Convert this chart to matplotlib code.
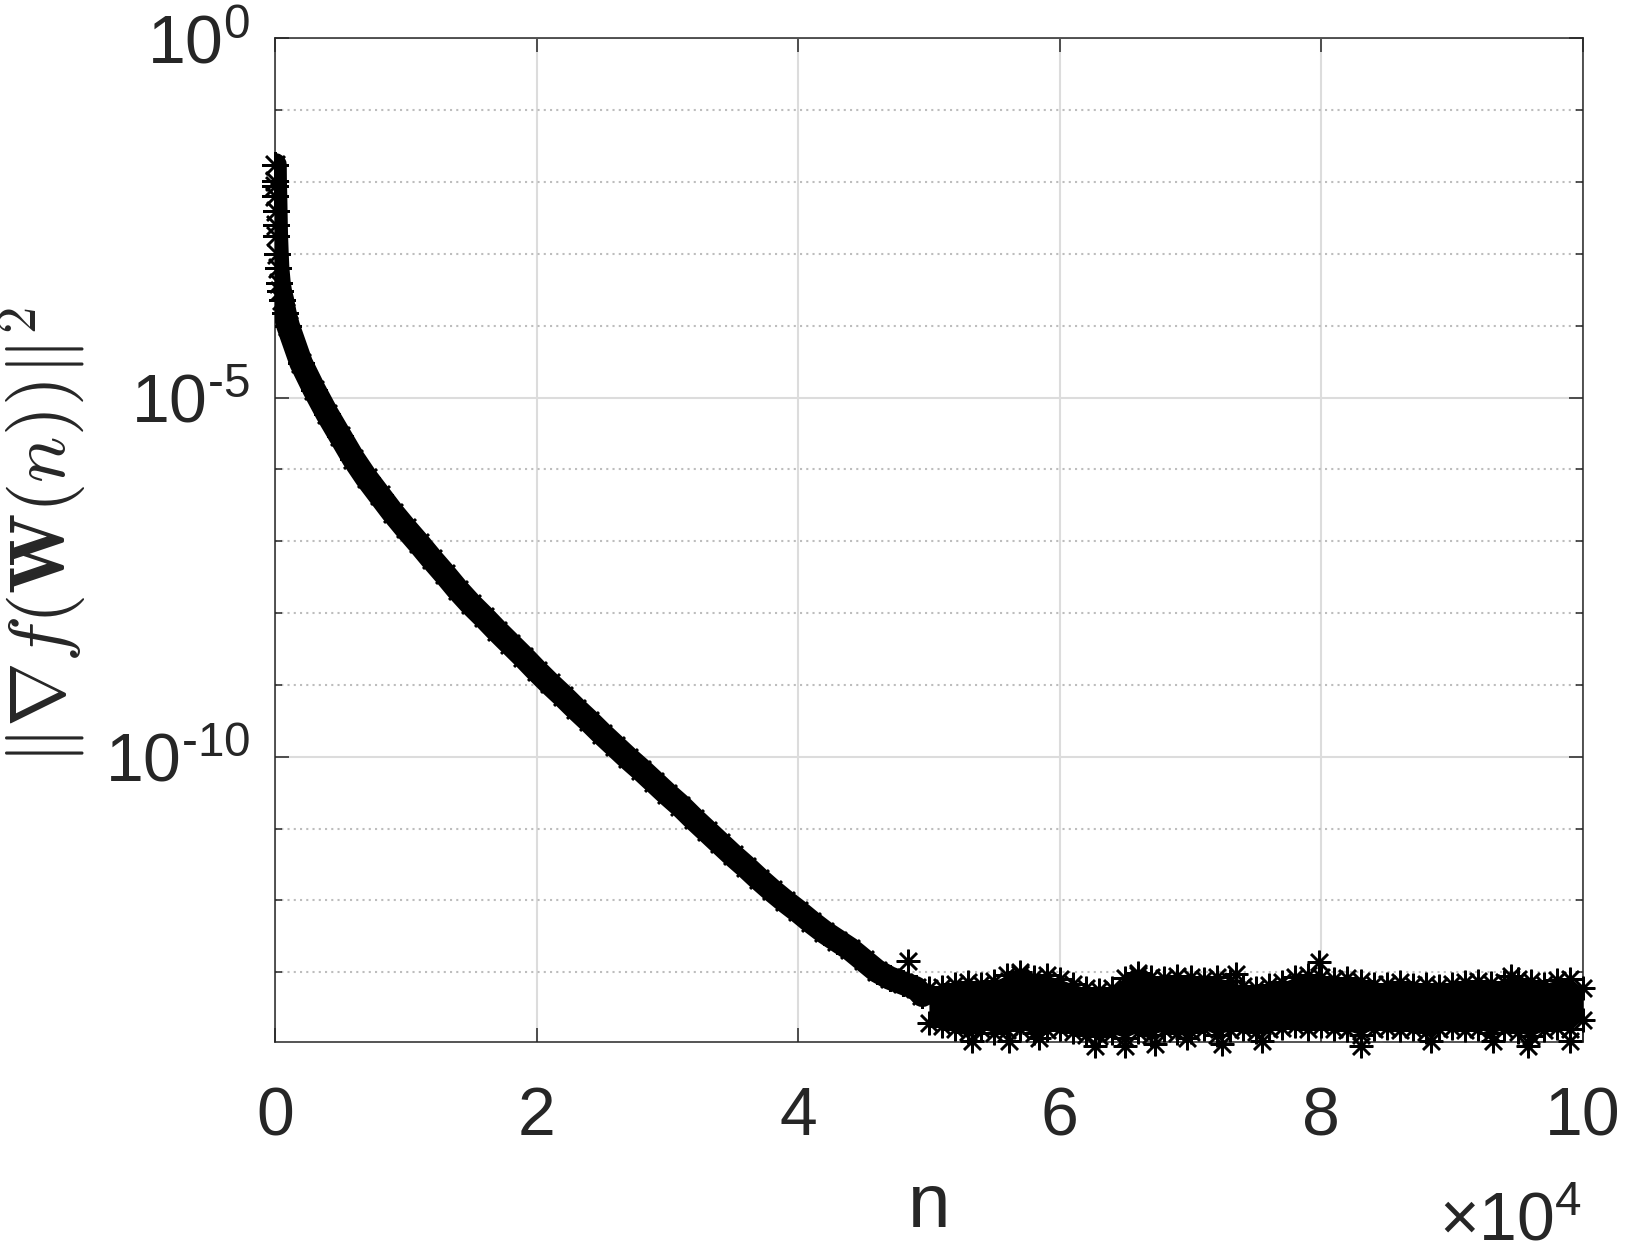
import numpy as np
import matplotlib
matplotlib.use('Agg')
import matplotlib.pyplot as plt
from matplotlib.ticker import FixedLocator, NullFormatter

plt.rcParams['font.family'] = ['Liberation Sans', 'DejaVu Sans']
plt.rcParams['mathtext.fontset'] = 'custom'
plt.rcParams['mathtext.rm'] = 'Liberation Sans'
plt.rcParams['mathtext.it'] = 'Liberation Sans:italic'
plt.rcParams['mathtext.bf'] = 'Liberation Sans:bold'

# descent part: iteration n and log10 of ||grad f(W(n))||^2
n_descent = [0, 10, 20, 40, 60, 80, 100, 150, 200, 300, 400, 560, 750,
             1000, 2000, 3000, 4000, 5000, 6000, 7000, 8000, 9000, 10000,
             11000, 12000, 13000, 14000, 15000, 16000, 17000, 18000, 19000, 20000,
             21000, 22000, 23000, 24000, 25000, 26000, 27000, 28000, 29000, 30000,
             31000, 32000, 33000, 34000, 35000, 36000, 37000, 38000, 39000, 40000,
             41000, 42000, 43000, 44000, 45000, 46000, 47000, 48000, 49000, 49500]
log_descent = [-1.76, -1.98, -2.05, -2.20, -2.40, -2.60, -2.75, -3.00, -3.20, -3.40, -3.52, -3.64, -3.82,
               -4.00, -4.52, -4.89, -5.23, -5.54, -5.85, -6.12, -6.36, -6.60, -6.82,
               -7.03, -7.25, -7.46, -7.68, -7.88, -8.06, -8.25, -8.43, -8.61, -8.80,
               -8.98, -9.15, -9.33, -9.50, -9.68, -9.85, -10.02, -10.18, -10.35, -10.52,
               -10.68, -10.86, -11.03, -11.20, -11.37, -11.53, -11.70, -11.86, -12.01, -12.15,
               -12.30, -12.44, -12.56, -12.68, -12.83, -12.98, -13.08, -13.15, -13.22, -13.32]

# noise floor: upper and lower edge of the scatter band (log10)
n_floor = [50000, 51000, 52000, 53000, 54000, 55000, 56000, 57000, 58000, 59000,
           60000, 61000, 62000, 63000, 64000, 65000, 66000, 67000, 68000, 69000,
           70000, 71000, 72000, 73000, 74000, 75000, 76000, 77000, 78000, 79000,
           80000, 81000, 82000, 83000, 84000, 85000, 86000, 87000, 88000, 89000,
           90000, 91000, 92000, 93000, 94000, 95000, 96000, 97000, 98000, 99000, 100000]
log_floor_hi = [-13.22, -13.20, -13.17, -13.14, -13.16, -13.12, -13.04, -13.02, -13.06, -13.04,
                -13.10, -13.16, -13.22, -13.24, -13.22, -13.08, -13.04, -13.06, -13.08, -13.05,
                -13.07, -13.10, -13.07, -13.12, -13.19, -13.22, -13.18, -13.14, -13.07, -13.04,
                -13.06, -13.10, -13.08, -13.12, -13.17, -13.16, -13.14, -13.18, -13.16, -13.19,
                -13.17, -13.14, -13.12, -13.15, -13.14, -13.10, -13.12, -13.16, -13.11, -13.09, -13.22]
log_floor_lo = [-13.70, -13.75, -13.79, -13.83, -13.79, -13.84, -13.81, -13.79, -13.85, -13.81,
                -13.79, -13.83, -13.87, -13.89, -13.85, -13.91, -13.83, -13.87, -13.81, -13.85,
                -13.83, -13.79, -13.87, -13.81, -13.79, -13.83, -13.79, -13.77, -13.75, -13.79,
                -13.75, -13.79, -13.81, -13.87, -13.79, -13.77, -13.81, -13.79, -13.83, -13.79,
                -13.77, -13.81, -13.79, -13.85, -13.79, -13.83, -13.89, -13.81, -13.77, -13.79, -13.66]

# isolated stray points
n_stray = [48400, 79850, 57000, 66000, 73500, 94500,
           53300, 56100, 58400, 62700, 65000, 67300, 69700, 72400, 75500, 83000, 88400, 93100, 95800, 99000]
log_stray = [-12.84, -12.86, -13.00, -13.01, -13.03, -13.05,
             -13.95, -13.95, -13.92, -14.02, -14.03, -14.00, -13.92, -14.00, -13.95, -14.02, -13.96, -13.96, -14.03, -13.95]

fig = plt.figure(figsize=(16.29, 12.54), dpi=100)
ax = fig.add_axes([0.1688, 0.1691, 0.8029, 0.8003])
ax.set_yscale('log')

star = (8, 2, 0)
ink = '#262626'

g_descent = 10 ** np.array(log_descent)
ax.plot(n_descent, g_descent, '-', color='k', lw=17, solid_joinstyle='round',
        solid_capstyle='round', zorder=3)
ax.plot(n_descent, g_descent, ls='none', marker=star, ms=19, mew=1.8, color='k',
        zorder=4, clip_on=False)

g_hi = 10 ** np.array(log_floor_hi)
g_lo = 10 ** np.array(log_floor_lo)
ax.fill_between(n_floor, g_lo, g_hi, color='k', lw=0, zorder=3)
for g in (g_hi, g_lo):
    ax.plot(n_floor, g, ls='none', marker=star, ms=17, mew=1.8, color='k',
            zorder=4, clip_on=False)
ax.plot(n_stray, 10 ** np.array(log_stray), ls='none', marker=star, ms=17, mew=1.8,
        color='k', zorder=4, clip_on=False)

ax.set_xlim(0, 100000)
ax.set_ylim(10 ** -13.97, 1)

ax.set_xticks([0, 20000, 40000, 60000, 80000, 100000])
ax.set_xticklabels(['0', '2', '4', '6', '8', '10'])
ax.yaxis.set_major_locator(FixedLocator([1e-10, 1e-5, 1e0]))
ax.yaxis.set_minor_locator(FixedLocator([10.0 ** -k for k in range(1, 14) if k not in (5, 10)]))
ax.yaxis.set_minor_formatter(NullFormatter())
ax.set_yticklabels([r'$\mathregular{10^{\text{-}10}}$', r'$\mathregular{10^{\text{-}5}}$',
                    r'$\mathregular{10^{0}}$'])

ax.tick_params(which='both', direction='in', top=True, right=True, color=ink,
               labelcolor=ink, labelsize=49, width=1.1)
ax.tick_params(which='major', length=10)
ax.tick_params(which='minor', length=5)
ax.tick_params(axis='x', pad=31)
ax.tick_params(axis='y', pad=18)

ax.set_axisbelow(True)
ax.grid(True, which='major', color='#dcdcdc', lw=1.5, ls='-')
ax.grid(True, which='minor', axis='y', color='#bdbdbd', lw=1.5, ls=(0, (1, 2)))
for s in ax.spines.values():
    s.set_color(ink)
    s.set_linewidth(1.1)

ax.set_ylabel(r'$\|\nabla f(\mathbf{W}(n))\|^2$', fontsize=56, math_fontfamily='cm',
              color=ink, va='center')
ax.yaxis.set_label_coords(-0.177, 0.504)
ax.set_xlabel('n', fontsize=55, color=ink, va='baseline')
ax.xaxis.set_label_coords(0.5, -0.184)

fig.text(1582 / 1629, 1 - 1240 / 1254, r'$\times\mathregular{10^{4}}$', fontsize=49,
         color=ink, ha='right', va='baseline')

fig.savefig('out.png', dpi=100)
